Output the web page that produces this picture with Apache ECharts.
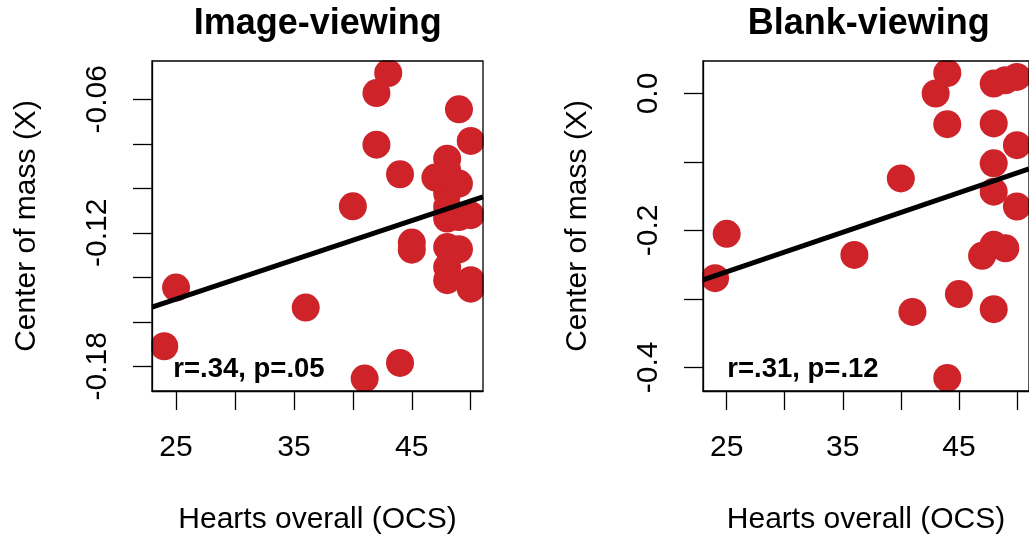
<!DOCTYPE html>
<html><head><meta charset="utf-8">
<script src="https://cdn.jsdelivr.net/npm/echarts@6/dist/echarts.min.js"></script>
<style>html,body{margin:0;padding:0;background:#fff}#c{width:1029px;height:542px}</style>
</head><body><div id="c"></div>
<script>
// ---- data ----
const panelTitles = ['Image-viewing', 'Blank-viewing'];
const annotations = ['r=.34, p=.05', 'r=.31, p=.12'];
const xAxisTitle = 'Hearts overall (OCS)';
const yAxisTitle = 'Center of mass (X)';
const xTicks = [25, 30, 35, 40, 45, 50];
const xTickLabels = [25, 35, 45];
const yTicksImage = [-0.18, -0.16, -0.14, -0.12, -0.10, -0.08, -0.06];
const yTickLabelsImage = [-0.18, -0.12, -0.06];
const yTicksBlank = [-0.4, -0.3, -0.2, -0.1, 0.0];
const yTickLabelsBlank = [-0.4, -0.2, 0.0];

const imageX = [43, 42, 42, 44, 40, 45, 45, 25, 36, 24, 44, 41,
                48, 48, 48, 48, 48, 48, 48, 48,
                49, 49, 49, 49,
                50, 50, 50, 50,
                47];
const imageY = [-0.0482, -0.0572, -0.0804, -0.0937, -0.1081, -0.1244, -0.1276, -0.1446, -0.1536, -0.1710, -0.1785, -0.1855,
                -0.0867, -0.0919, -0.1024, -0.1084, -0.1136, -0.1264, -0.1354, -0.1413,
                -0.0645, -0.0979, -0.1129, -0.1274,
                -0.0787, -0.1121, -0.1413, -0.1451,
                -0.0952];

const blankX = [44, 43, 44, 40, 25, 24, 36, 45, 41, 44,
                48, 47, 48, 49, 48, 48, 48, 50, 50, 48, 49, 50];
const blankY = [0.030, 0.000, -0.0448, -0.124, -0.205, -0.2697, -0.2357, -0.293, -0.319, -0.4155,
                -0.315, -0.237, -0.221, -0.226, -0.102, -0.1434, -0.0437, -0.0754, -0.165, 0.0146, 0.0194, 0.0242];

const fitX = [22.96, 51.04];
const imageFitY = [-0.1534, -0.1039];
const blankFitY = [-0.2722, -0.1102];

const xRange = [22.96, 51.04];
const imageYRange = [-0.1911, -0.0428];
const blankYRange = [-0.4345, 0.0475];

// ---- chart ----
const FONT = 'Liberation Sans';
const pts = (xs, ys) => xs.map((x, i) => [x, ys[i]]);

function xAxisCfg(gi) {
  return {
    type: 'value', gridIndex: gi, min: xRange[0], max: xRange[1], z: 6,
    splitLine: { show: false },
    axisLine: { show: true, onZero: false, lineStyle: { color: '#000', width: 1.3 } },
    axisTick: { show: true, customValues: xTicks, length: 19, lineStyle: { color: '#000', width: 1.3 } },
    axisLabel: { customValues: xTickLabels, margin: 42, fontSize: 30, fontFamily: FONT, color: '#000' },
    name: xAxisTitle, nameLocation: 'middle', nameGap: 114,
    nameTextStyle: { fontSize: 30, fontFamily: FONT, color: '#000' }
  };
}
function yAxisCfg(gi, range, ticks, labels, dec) {
  return {
    type: 'value', gridIndex: gi, min: range[0], max: range[1], z: 6,
    splitLine: { show: false },
    axisLine: { show: true, onZero: false, lineStyle: { color: '#000', width: 1.3 } },
    axisTick: { show: true, customValues: ticks, length: 19, lineStyle: { color: '#000', width: 1.3 } },
    axisLabel: { customValues: labels, rotate: 90, margin: 39, fontSize: 30, fontFamily: FONT, color: '#000',
                 formatter: v => Number(v).toFixed(dec) },
    name: yAxisTitle, nameLocation: 'middle', nameGap: 110, nameRotate: 90,
    nameTextStyle: { fontSize: 30, fontFamily: FONT, color: '#000' }
  };
}

const chart = echarts.init(document.getElementById('c'), null, { renderer: 'canvas' });
const gridCfg = { show: true, borderColor: '#000', borderWidth: 1.3, backgroundColor: 'transparent', containLabel: false, z: 6 };
const RED = '#CD2329';

// white masks that clip symbols at the plot box, like R's plot-region clipping
function masks(left, top, w, h) {
  const s = { fill: '#fff' };
  return [
    { type: 'rect', z: 4, shape: { x: left - 20, y: top - 14, width: w + 40, height: 13.3 }, style: s, silent: true },
    { type: 'rect', z: 4, shape: { x: left - 20, y: top + h + 0.7, width: w + 40, height: 14 }, style: s, silent: true },
    { type: 'rect', z: 4, shape: { x: left - 20, y: top - 14, width: 19.3, height: h + 28 }, style: s, silent: true },
    { type: 'rect', z: 4, shape: { x: left + w + 0.7, y: top - 14, width: 20, height: h + 28 }, style: s, silent: true }
  ];
}

chart.setOption({
  animation: false,
  backgroundColor: '#fff',
  grid: [
    Object.assign({ left: 152, top: 61, width: 331, height: 330 }, gridCfg),
    Object.assign({ left: 703, top: 61, width: 331, height: 330 }, gridCfg)
  ],
  xAxis: [xAxisCfg(0), xAxisCfg(1)],
  yAxis: [
    yAxisCfg(0, imageYRange, yTicksImage, yTickLabelsImage, 2),
    yAxisCfg(1, blankYRange, yTicksBlank, yTickLabelsBlank, 1)
  ],
  series: [
    { type: 'scatter', xAxisIndex: 0, yAxisIndex: 0, data: pts(imageX, imageY), symbolSize: 28,
      itemStyle: { color: RED, opacity: 1 }, z: 2 },
    { type: 'scatter', xAxisIndex: 1, yAxisIndex: 1, data: pts(blankX, blankY), symbolSize: 28,
      itemStyle: { color: RED, opacity: 1 }, z: 2 },
    { type: 'line', xAxisIndex: 0, yAxisIndex: 0, data: pts(fitX, imageFitY), showSymbol: false,
      lineStyle: { color: '#000', width: 5 }, z: 3 },
    { type: 'line', xAxisIndex: 1, yAxisIndex: 1, data: pts(fitX, blankFitY), showSymbol: false,
      lineStyle: { color: '#000', width: 5 }, z: 3 }
  ],
  graphic: [
    ...masks(152, 61, 331, 330),
    ...masks(703, 61, 331, 330),
    { type: 'text', x: 317.7, y: 24, z: 10, style: { text: panelTitles[0], font: 'bold 36px "Liberation Sans"', fill: '#000', align: 'center', verticalAlign: 'middle' } },
    { type: 'text', x: 868.7, y: 24, z: 10, style: { text: panelTitles[1], font: 'bold 36px "Liberation Sans"', fill: '#000', align: 'center', verticalAlign: 'middle' } },
    { type: 'text', x: 173.3, y: 369, z: 10, style: { text: annotations[0], font: 'bold 27.5px "Liberation Sans"', fill: '#000', align: 'left', verticalAlign: 'middle' } },
    { type: 'text', x: 727.3, y: 369, z: 10, style: { text: annotations[1], font: 'bold 27.5px "Liberation Sans"', fill: '#000', align: 'left', verticalAlign: 'middle' } }
  ]
});
</script>
</body></html>
